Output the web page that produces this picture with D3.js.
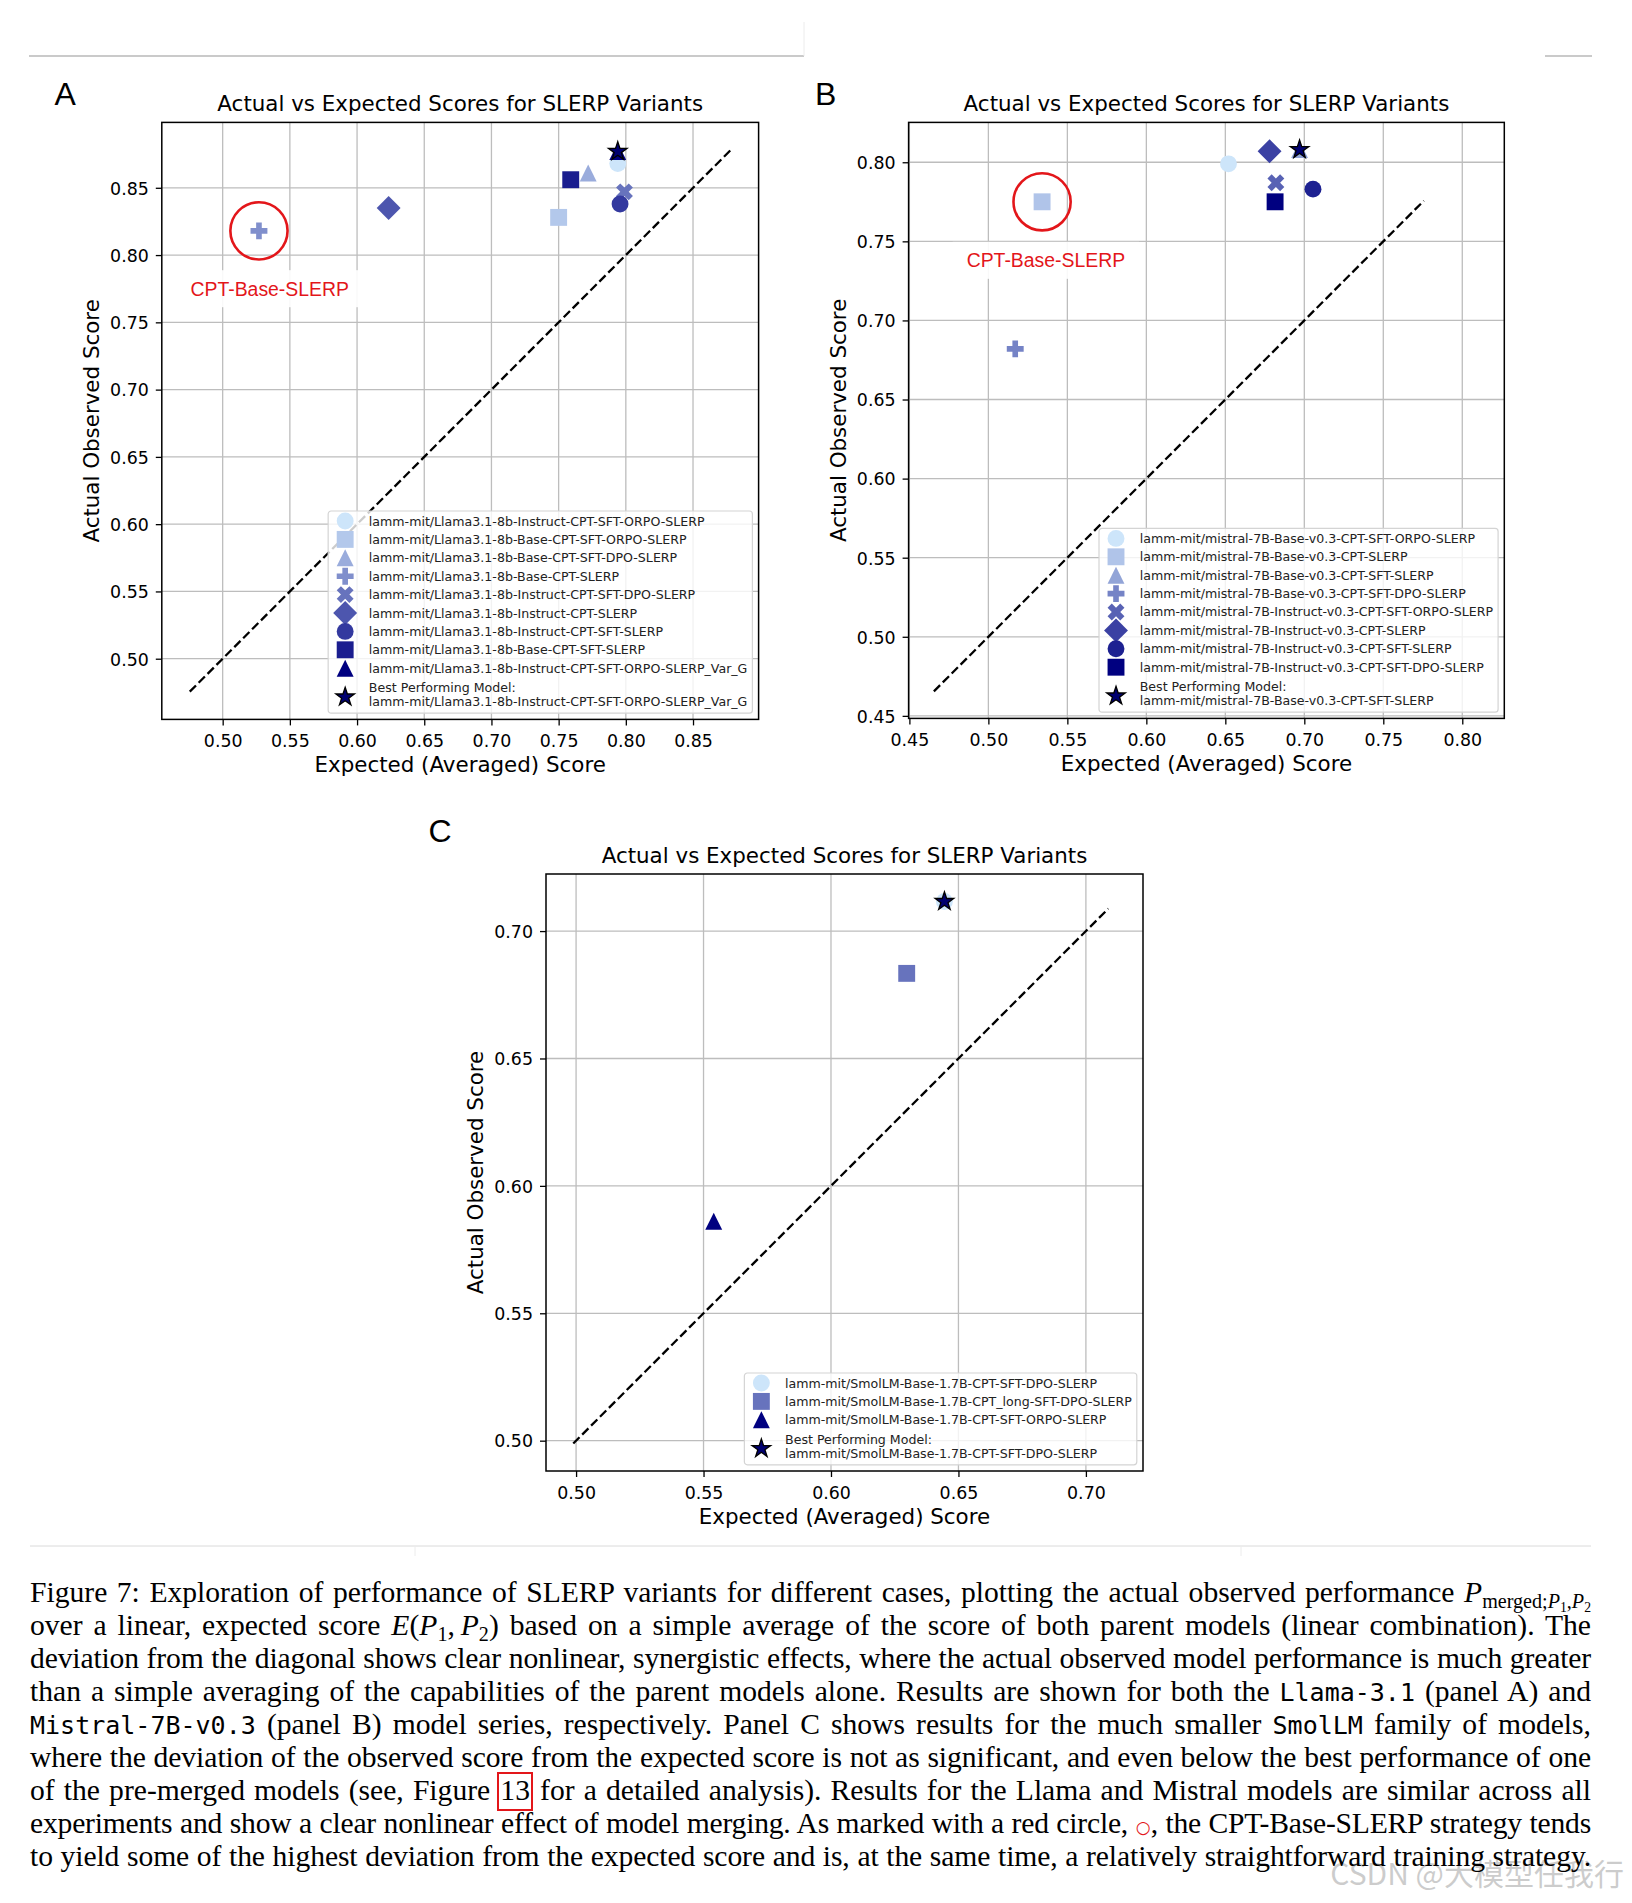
<!DOCTYPE html>
<html><head><meta charset="utf-8">
<script src="https://cdn.jsdelivr.net/npm/d3@7"></script>
<style>
body{margin:0;background:#fff;width:1632px;height:1903px;overflow:hidden;}
#caption{position:absolute;left:30px;top:1576px;width:1561px;font-family:"Liberation Serif","Times New Roman",serif;font-size:29.6px;line-height:33px;color:#000;}
.ln{white-space:nowrap;text-align:justify;text-align-last:justify;height:33px;}
.tt{font-family:"DejaVu Sans Mono",monospace;font-size:25px;}
.m{font-style:italic;}
sub{font-size:68%;line-height:0;vertical-align:-0.28em;}
.rb{outline:2px solid #e3161a;padding:0 1px 3px 1px;}
</style></head><body>
<svg id="fig" width="1632" height="1903" style="position:absolute;left:0;top:0"></svg>
<div id="caption">
<div class="ln">Figure 7: Exploration of performance of SLERP variants for different cases, plotting the actual observed performance <span class="m">P</span><sub>merged;<span class="m">P</span><sub>1</sub>,<span class="m">P</span><sub>2</sub></sub></div>
<div class="ln">over a linear, expected score <span class="m">E</span>(<span class="m">P</span><sub>1</sub>,&#8201;<span class="m">P</span><sub>2</sub>) based on a simple average of the score of both parent models (linear combination). The</div>
<div class="ln">deviation from the diagonal shows clear nonlinear, synergistic effects, where the actual observed model performance is much greater</div>
<div class="ln">than a simple averaging of the capabilities of the parent models alone. Results are shown for both the <span class="tt">Llama-3.1</span> (panel A) and</div>
<div class="ln"><span class="tt">Mistral-7B-v0.3</span> (panel B) model series, respectively. Panel C shows results for the much smaller <span class="tt">SmolLM</span> family of models,</div>
<div class="ln">where the deviation of the observed score from the expected score is not as significant, and even below the best performance of one</div>
<div class="ln">of the pre-merged models (see, Figure <span class="rb">13</span> for a detailed analysis). Results for the Llama and Mistral models are similar across all</div>
<div class="ln">experiments and show a clear nonlinear effect of model merging. As marked with a red circle, <span style="color:#e3161a;font-family:'DejaVu Sans';font-size:17px;">○</span>, the CPT-Base-SLERP strategy tends</div>
<div class="ln">to yield some of the highest deviation from the expected score and is, at the same time, a relatively straightforward training strategy.</div>
</div>
<script>
// ---------------- DATA ----------------
const modelsA = [
  "lamm-mit/Llama3.1-8b-Instruct-CPT-SFT-ORPO-SLERP",
  "lamm-mit/Llama3.1-8b-Base-CPT-SFT-ORPO-SLERP",
  "lamm-mit/Llama3.1-8b-Base-CPT-SFT-DPO-SLERP",
  "lamm-mit/Llama3.1-8b-Base-CPT-SLERP",
  "lamm-mit/Llama3.1-8b-Instruct-CPT-SFT-DPO-SLERP",
  "lamm-mit/Llama3.1-8b-Instruct-CPT-SLERP",
  "lamm-mit/Llama3.1-8b-Instruct-CPT-SFT-SLERP",
  "lamm-mit/Llama3.1-8b-Base-CPT-SFT-SLERP",
  "lamm-mit/Llama3.1-8b-Instruct-CPT-SFT-ORPO-SLERP_Var_G"
];
const expectedA = [0.794, 0.750, 0.772, 0.527, 0.799, 0.6235, 0.7957, 0.759, 0.794];
const actualA   = [0.868, 0.828, 0.861, 0.818, 0.847, 0.835, 0.838, 0.856, 0.877];
const bestA = "lamm-mit/Llama3.1-8b-Instruct-CPT-SFT-ORPO-SLERP_Var_G";
const highlightA = "lamm-mit/Llama3.1-8b-Base-CPT-SLERP";
const diagonalA = [0.4755, 0.879];
const xDomainA = [0.4547, 0.8988];
const yDomainA = [0.4549, 0.8986];
const ticksA = [0.50, 0.55, 0.60, 0.65, 0.70, 0.75, 0.80, 0.85];
const annotA = [0.535, 0.775];

const modelsB = [
  "lamm-mit/mistral-7B-Base-v0.3-CPT-SFT-ORPO-SLERP",
  "lamm-mit/mistral-7B-Base-v0.3-CPT-SLERP",
  "lamm-mit/mistral-7B-Base-v0.3-CPT-SFT-SLERP",
  "lamm-mit/mistral-7B-Base-v0.3-CPT-SFT-DPO-SLERP",
  "lamm-mit/mistral-7B-Instruct-v0.3-CPT-SFT-ORPO-SLERP",
  "lamm-mit/mistral-7B-Instruct-v0.3-CPT-SLERP",
  "lamm-mit/mistral-7B-Instruct-v0.3-CPT-SFT-SLERP",
  "lamm-mit/mistral-7B-Instruct-v0.3-CPT-SFT-DPO-SLERP"
];
const expectedB = [0.652, 0.534, 0.697, 0.517, 0.682, 0.678, 0.7055, 0.6815];
const actualB   = [0.799, 0.775, 0.808, 0.682, 0.787, 0.807, 0.783, 0.775];
const bestB = "lamm-mit/mistral-7B-Base-v0.3-CPT-SFT-SLERP";
const highlightB = "lamm-mit/mistral-7B-Base-v0.3-CPT-SLERP";
const diagonalB = [0.4655, 0.7757];
const xDomainB = [0.4495, 0.8266];
const yDomainB = [0.4484, 0.8252];
const ticksB = [0.45, 0.50, 0.55, 0.60, 0.65, 0.70, 0.75, 0.80];
const annotB = [0.5364, 0.738];

const modelsC = [
  "lamm-mit/SmolLM-Base-1.7B-CPT-SFT-DPO-SLERP",
  "lamm-mit/SmolLM-Base-1.7B-CPT_long-SFT-DPO-SLERP",
  "lamm-mit/SmolLM-Base-1.7B-CPT-SFT-ORPO-SLERP"
];
const expectedC = [0.6445, 0.6297, 0.554];
const actualC   = [0.7116, 0.6834, 0.5861];
const bestC = "lamm-mit/SmolLM-Base-1.7B-CPT-SFT-DPO-SLERP";
const diagonalC = [0.4989, 0.7088];
const xDomainC = [0.4882, 0.7224];
const yDomainC = [0.4881, 0.7224];
const ticksC = [0.50, 0.55, 0.60, 0.65, 0.70];

const titleText = "Actual vs Expected Scores for SLERP Variants";
const xLabelText = "Expected (Averaged) Score";
const yLabelText = "Actual Observed Score";
const annotText = "CPT-Base-SLERP";
const bestPrefix = "Best Performing Model:";

// ---------------- STYLE ----------------
const markersA = ['o','s','^','P','X','D','o','s','^'];
const markersB = ['o','s','^','P','X','D','o','s'];
const markersC = ['o','s','^'];
const cLight = "#cde5fa", cDark = "#000080";
const MS = 16.9;
const FONT = "'DejaVu Sans', sans-serif";

const svg = d3.select("#fig");

// page decorations
const deco = svg.append("g");
deco.append("line").attr("x1",29).attr("x2",804).attr("y1",56).attr("y2",56).attr("stroke","#b8b8b8").attr("stroke-width",1.3);
deco.append("line").attr("x1",804).attr("x2",804).attr("y1",22).attr("y2",56).attr("stroke","#ececec").attr("stroke-width",1);
deco.append("line").attr("x1",1545).attr("x2",1592).attr("y1",56).attr("y2",56).attr("stroke","#b8b8b8").attr("stroke-width",1.3);
deco.append("line").attr("x1",30).attr("x2",1591).attr("y1",1546).attr("y2",1546).attr("stroke","#dadada").attr("stroke-width",1);
deco.append("line").attr("x1",415).attr("x2",415).attr("y1",1546).attr("y2",1556).attr("stroke","#ececec").attr("stroke-width",1);
deco.append("line").attr("x1",1241).attr("x2",1241).attr("y1",1546).attr("y2",1556).attr("stroke","#ececec").attr("stroke-width",1);

function markerPath(shape, ms){
  const h = ms/2;
  const p = d3.path();
  if(shape==='o'){ p.arc(0,0,h,0,2*Math.PI); p.closePath(); return p.toString(); }
  if(shape==='s'){ return `M${-h},${-h}H${h}V${h}H${-h}Z`; }
  if(shape==='^'){ return `M0,${-h}L${h},${h}L${-h},${h}Z`; }
  if(shape==='D'){ const d=h*Math.SQRT2; return `M0,${-d}L${d},0L0,${d}L${-d},0Z`; }
  if(shape==='P'){
    const u = ms/6;
    const pts=[[-1,-3],[1,-3],[1,-1],[3,-1],[3,1],[1,1],[1,3],[-1,3],[-1,1],[-3,1],[-3,-1],[-1,-1]];
    return "M"+pts.map(q=>`${q[0]*u},${q[1]*u}`).join("L")+"Z";
  }
  if(shape==='X'){
    const u = ms/4;
    const pts=[[-1,-2],[0,-1],[1,-2],[2,-1],[1,0],[2,1],[1,2],[0,1],[-1,2],[-2,1],[-1,0],[-2,-1]];
    return "M"+pts.map(q=>`${q[0]*u},${q[1]*u}`).join("L")+"Z";
  }
  if(shape==='*'){
    const R = ms/2, r = R*0.381966, pts=[];
    for(let i=0;i<10;i++){ const a = -Math.PI/2 + i*Math.PI/5; const rr = i%2?r:R; pts.push([rr*Math.cos(a), rr*Math.sin(a)]); }
    return "M"+pts.map(q=>`${q[0]},${q[1]}`).join("L")+"Z";
  }
}
const STAR_MS = 19.5;

function drawPanel(cfg){
  const {left, top, w, h} = cfg;
  const g = svg.append("g").attr("transform",`translate(${left},${top})`);
  const x = d3.scaleLinear().domain(cfg.xDomain).range([0,w]);
  const y = d3.scaleLinear().domain(cfg.yDomain).range([h,0]);
  const n = cfg.models.length;
  const color = i => d3.interpolateRgb(cLight, cDark)(n===1?0:i/(n-1));

  // grid
  g.append("g").selectAll("line").data(cfg.ticks).join("line")
    .attr("x1",d=>x(d)).attr("x2",d=>x(d)).attr("y1",0).attr("y2",h)
    .attr("stroke","#bdbdbd").attr("stroke-width",1.3);
  g.append("g").selectAll("line").data(cfg.ticks).join("line")
    .attr("y1",d=>y(d)).attr("y2",d=>y(d)).attr("x1",0).attr("x2",w)
    .attr("stroke","#bdbdbd").attr("stroke-width",1.3);

  // axes via d3
  const xAxis = d3.axisBottom(x).tickValues(cfg.ticks).tickFormat(d3.format(".2f")).tickSize(6).tickPadding(7);
  const yAxis = d3.axisLeft(y).tickValues(cfg.ticks).tickFormat(d3.format(".2f")).tickSize(6).tickPadding(7);
  const gx = g.append("g").attr("transform",`translate(0,${h})`).call(xAxis);
  const gy = g.append("g").call(yAxis);
  [gx,gy].forEach(a=>{
    a.select(".domain").remove();
    a.selectAll(".tick line").attr("stroke","#000").attr("stroke-width",1.3);
    a.selectAll(".tick text").attr("font-family",FONT).attr("font-size",17.4).attr("fill","#000");
  });
  gx.selectAll(".tick text").attr("dy",null).attr("y",27.8);
  gy.selectAll(".tick text").attr("dy",null).attr("x",-13).attr("y",6.3);

  // diagonal
  g.append("line")
    .attr("x1",x(cfg.diagonal[0])).attr("y1",y(cfg.diagonal[0]))
    .attr("x2",x(cfg.diagonal[1])).attr("y2",y(cfg.diagonal[1]))
    .attr("stroke","#000").attr("stroke-width",2.3).attr("stroke-dasharray","8.8,3.8");

  // points
  const pts = cfg.models.map((m,i)=>({m, ex:cfg.expected[i], ac:cfg.actual[i], shape:cfg.markers[i], c:color(i)}));
  g.append("g").selectAll("path").data(pts).join("path")
    .attr("d",d=>markerPath(d.shape,MS))
    .attr("transform",d=>`translate(${x(d.ex)},${y(d.ac)})`)
    .attr("fill",d=>d.c);
  const best = pts.find(d=>d.m===cfg.best);
  g.append("path").attr("d",markerPath('*',STAR_MS))
    .attr("transform",`translate(${x(best.ex)},${y(best.ac)})`)
    .attr("fill","#000070").attr("stroke","#000").attr("stroke-width",1.3);

  // highlight
  if(cfg.highlight){
    const hp = pts.find(d=>d.m===cfg.highlight);
    g.append("circle").attr("cx",x(hp.ex)).attr("cy",y(hp.ac)).attr("r",28.6)
      .attr("fill","none").attr("stroke","#e3161a").attr("stroke-width",2.6);
    const ag = g.append("g").attr("transform",`translate(${x(cfg.annot[0])},${y(cfg.annot[1])})`);
    const bg = ag.append("rect").attr("fill","#fff").attr("fill-opacity",0.9);
    const t = ag.append("text").text(annotText).attr("text-anchor","middle")
      .attr("font-family","'Liberation Sans', Arial, sans-serif").attr("font-size",19.4)
      .attr("fill","#e3161a").attr("y",7);
    const tw = t.node().getComputedTextLength();
    bg.attr("x",-tw/2-14).attr("width",tw+28).attr("y",-18.5).attr("height",37);
  }

  // frame
  g.append("rect").attr("width",w).attr("height",h).attr("fill","none").attr("stroke","#000").attr("stroke-width",1.5);

  // legend
  const lg = g.append("g");
  const frame = lg.append("rect").attr("rx",3).attr("fill","#fff").attr("fill-opacity",0.8)
    .attr("stroke","#d4d4d4").attr("stroke-width",1.2);
  const pitch = 18.4;
  let maxW = 0;
  const items = lg.append("g");
  pts.forEach((d,i)=>{
    const cy = 10 + i*pitch;
    items.append("path").attr("d",markerPath(d.shape,MS)).attr("transform",`translate(17,${cy})`).attr("fill",d.c);
    const t = items.append("text").text(d.m).attr("x",40.7).attr("y",cy+4.5)
      .attr("font-family",FONT).attr("font-size",12.6).attr("fill","#222");
    maxW = Math.max(maxW, t.node().getComputedTextLength());
  });
  const last = 10 + (n-1)*pitch;
  const l1 = last + 19.2, l2 = l1 + 14.3;
  items.append("path").attr("d",markerPath('*',STAR_MS)).attr("transform",`translate(17,${l1+9.6})`)
    .attr("fill","#000070").attr("stroke","#000").attr("stroke-width",1.3);
  [[bestPrefix,l1],[cfg.best,l2]].forEach(([s,yy])=>{
    const t = items.append("text").text(s).attr("x",40.7).attr("y",yy+4.5)
      .attr("font-family",FONT).attr("font-size",12.6).attr("fill","#222");
    maxW = Math.max(maxW, t.node().getComputedTextLength());
  });
  const lw = 40.7 + maxW + 5, lh = l2 + 11.5;
  frame.attr("width",lw).attr("height",lh);
  lg.attr("transform",`translate(${w-6.2-lw},${h-6.2-lh})`);

  // title & labels
  svg.append("text").text(titleText).attr("x",left+w/2).attr("y",top-11)
    .attr("text-anchor","middle").attr("font-family",FONT).attr("font-size",21.4).attr("fill","#000");
  svg.append("text").text(xLabelText).attr("x",left+w/2).attr("y",top+h+52.5)
    .attr("text-anchor","middle").attr("font-family",FONT).attr("font-size",21.4).attr("fill","#000");
  svg.append("text").text(yLabelText)
    .attr("transform",`translate(${left-63},${top+h/2}) rotate(-90)`)
    .attr("text-anchor","middle").attr("font-family",FONT).attr("font-size",21.4).attr("fill","#000");
  // panel letter
  svg.append("text").text(cfg.letter).attr("x",cfg.lx).attr("y",cfg.ly)
    .attr("font-family","'Liberation Sans', Arial, sans-serif").attr("font-size",32).attr("fill","#000");
}

drawPanel({left:161.8, top:122.4, w:596.8, h:597, models:modelsA, expected:expectedA, actual:actualA,
  markers:markersA, best:bestA, highlight:highlightA, annot:annotA, diagonal:diagonalA,
  xDomain:xDomainA, yDomain:yDomainA, ticks:ticksA, letter:"A", lx:54.5, ly:104.6});
drawPanel({left:908.6, top:122.4, w:595.7, h:596, models:modelsB, expected:expectedB, actual:actualB,
  markers:markersB, best:bestB, highlight:highlightB, annot:annotB, diagonal:diagonalB,
  xDomain:xDomainB, yDomain:yDomainB, ticks:ticksB, letter:"B", lx:815, ly:104.6});
drawPanel({left:546, top:874, w:597, h:597, models:modelsC, expected:expectedC, actual:actualC,
  markers:markersC, best:bestC, highlight:null, annot:null, diagonal:diagonalC,
  xDomain:xDomainC, yDomain:yDomainC, ticks:ticksC, letter:"C", lx:428.5, ly:841.5});

// watermark
svg.append("text").text("CSDN @大模型任我行").attr("x",1624).attr("y",1885)
  .attr("text-anchor","end")
  .attr("font-family","'Noto Sans CJK SC', sans-serif").attr("font-size",30)
  .attr("fill","#9a9a9a").attr("fill-opacity",0.5);

// caption: keep each line on one line, tighten letters only if it would overflow
const TARGET = 1561;
document.querySelectorAll("#caption .ln").forEach(el=>{
  el.style.display = "inline-block";
  el.style.width = "auto";
  el.style.textAlignLast = "auto";
  const wNat = el.getBoundingClientRect().width;
  el.style.display = "";
  el.style.width = "";
  el.style.textAlignLast = "";
  if(wNat > TARGET - 4){
    const nChars = el.textContent.length;
    el.style.letterSpacing = (-(wNat - TARGET + 8)/nChars) + "px";
  }
});
</script>
</body></html>
